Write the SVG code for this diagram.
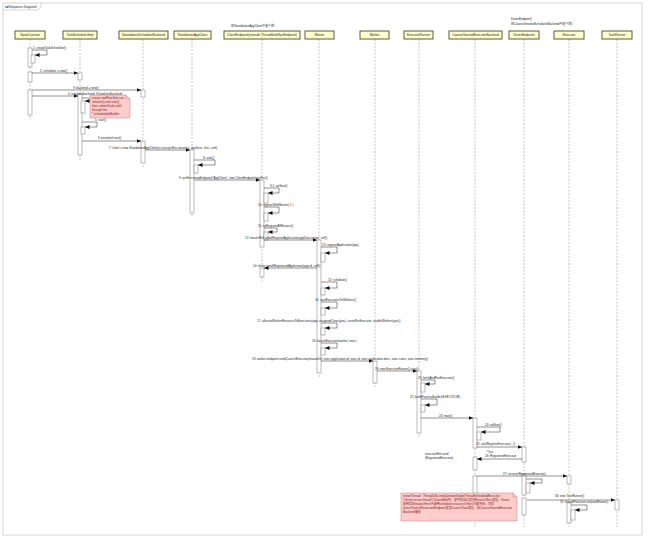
<svg xmlns="http://www.w3.org/2000/svg" width="650" height="543" viewBox="0 0 650 543">
<style>
text{font-family:"Liberation Sans","Noto Sans CJK SC",sans-serif;fill:#222}
.lbl{font-size:3px}
.hd{font-size:3.2px;text-anchor:middle}
.head{fill:#ffffcc;stroke:#4a4a2a;stroke-width:0.9}
.life{stroke:#8a8a8a;stroke-width:0.5;stroke-dasharray:2,1.5;fill:none}
.act{fill:#fff;stroke:#777;stroke-width:0.5}
.msg{stroke:#222;stroke-width:0.5;fill:none;marker-end:url(#ah)}
.note{fill:#ffcccc;stroke:#c08080;stroke-width:0.5}
.nt{font-size:3px;fill:#7a1a1a}
</style>
<defs>
<marker id="ah" markerUnits="userSpaceOnUse" markerWidth="5" markerHeight="4" refX="4.5" refY="2" orient="auto"><path d="M0,0 L4.5,2 L0,4 Z" fill="#111"/></marker>
</defs>
<rect width="650" height="543" fill="#fff"/>
<rect x="3" y="3" width="639" height="532" fill="none" stroke="#ccc" stroke-width="0.8"/>
<path d="M3,10 H38 L41,7 V3" fill="none" stroke="#aaa" stroke-width="0.5"/>
<text x="5" y="8" class="lbl"><tspan font-weight="bold">sd</tspan> Sequence Diagram0</text>

<text x="231" y="27" class="lbl">在StandaloneAppClient中定义的</text>
<text x="511" y="20" class="lbl">DriverEndpoint(</text>
<text x="511" y="25" class="lbl">在CoarseGrainedSchedulerBackend中定义的)</text>

<g id="n-sparkcontext"><line class="life" x1="30" y1="39" x2="30" y2="120"/><rect class="head" x="15" y="31" width="30" height="8"/><text class="hd" x="30" y="36.2">SparkContext</text>
<rect class="act" x="28" y="48" width="4" height="19"/><rect class="act" x="31" y="55" width="4" height="8"/><rect class="act" x="28" y="72" width="4" height="10"/><rect class="act" x="28" y="90" width="4" height="25"/></g>
<g id="n-taskschedulerimpl"><line class="life" x1="80" y1="39" x2="80" y2="160"/><rect class="head" x="63" y="31" width="34" height="8"/><text class="hd" x="80" y="36.2">TaskSchedulerImpl</text>
<rect class="act" x="78" y="73" width="4" height="7"/><rect class="act" x="78" y="94" width="4" height="61"/><rect class="act" x="81" y="101" width="4" height="12"/><rect class="act" x="81" y="127" width="4" height="7"/></g>
<g id="n-standaloneschedulerbackend"><line class="life" x1="143" y1="39" x2="143" y2="168"/><rect class="head" x="119" y="31" width="49" height="8"/><text class="hd" x="143.5" y="36.2">StandaloneSchedulerBackend</text>
<rect class="act" x="141" y="90" width="4" height="7"/><rect class="act" x="141" y="141" width="4" height="22"/></g>
<g id="n-standaloneappclient"><line class="life" x1="192" y1="39" x2="192" y2="218"/><rect class="head" x="174" y="31" width="37" height="8"/><text class="hd" x="192.5" y="36.2">StandaloneAppClient</text>
<rect class="act" x="190" y="150" width="4" height="63"/><rect class="act" x="194" y="165" width="4" height="8"/></g>
<g id="n-clientendpoint"><line class="life" x1="262" y1="39" x2="262" y2="282"/><rect class="head" x="224" y="31" width="76" height="8"/><text class="hd" x="262" y="36.2">ClientEndpoint(extends ThreadSafeRpcEndpoint)</text>
<rect class="act" x="260" y="180" width="4" height="67"/><rect class="act" x="264" y="193" width="4" height="10"/><rect class="act" x="264" y="213" width="4" height="8"/><rect class="act" x="264" y="232" width="4" height="8"/><rect class="act" x="260" y="268" width="4" height="9"/></g>
<g id="n-master"><line class="life" x1="319" y1="39" x2="319" y2="378"/><rect class="head" x="305" y="31" width="29" height="8"/><text class="hd" x="319.5" y="36.2">Master</text>
<rect class="act" x="317" y="240" width="4" height="133"/><rect class="act" x="321" y="253" width="4" height="9"/><rect class="act" x="321" y="288" width="4" height="7"/><rect class="act" x="321" y="308" width="4" height="7"/><rect class="act" x="321" y="328" width="4" height="7"/><rect class="act" x="321" y="348" width="4" height="7"/></g>
<g id="n-worker"><line class="life" x1="375" y1="39" x2="375" y2="387"/><rect class="head" x="360" y="31" width="29" height="8"/><text class="hd" x="374.5" y="36.2">Worker</text>
<rect class="act" x="373" y="361" width="4" height="22"/></g>
<g id="n-executorrunner"><line class="life" x1="419" y1="39" x2="419" y2="437"/><rect class="head" x="404" y="31" width="29" height="8"/><text class="hd" x="418.5" y="36.2">ExecutorRunner</text>
<rect class="act" x="417" y="371" width="4" height="62"/><rect class="act" x="421" y="383" width="4" height="9"/><rect class="act" x="421" y="405" width="4" height="7"/></g>
<g id="n-coarsegrainedexecutorbackend"><line class="life" x1="475" y1="39" x2="475" y2="527"/><rect class="head" x="449" y="31" width="53" height="8"/><text class="hd" x="475.5" y="36.2">CoarseGrainedExecutorBackend</text>
<rect class="act" x="473" y="418" width="4" height="30"/><rect class="act" x="477" y="432" width="4" height="8"/><rect class="act" x="473" y="457" width="4" height="13"/><rect class="act" x="473" y="476" width="4" height="44"/></g>
<g id="n-driverendpoint"><line class="life" x1="524" y1="39" x2="524" y2="527"/><rect class="head" x="509" y="31" width="30" height="8"/><text class="hd" x="524" y="36.2">DriverEndpoint</text>
<rect class="act" x="522" y="447" width="4" height="15"/><rect class="act" x="522" y="474" width="4" height="21"/><rect class="act" x="526" y="483" width="4" height="10"/><rect class="act" x="522" y="498" width="4" height="17"/></g>
<g id="n-executor"><line class="life" x1="569" y1="39" x2="569" y2="527"/><rect class="head" x="554" y="31" width="30" height="8"/><text class="hd" x="569" y="36.2">Executor</text>
<rect class="act" x="567" y="476" width="4" height="8"/><rect class="act" x="567" y="503" width="4" height="20"/><rect class="act" x="571" y="510" width="4" height="10"/></g>
<g id="n-taskrunner"><line class="life" x1="617" y1="39" x2="617" y2="527"/><rect class="head" x="602" y="31" width="30" height="8"/><text class="hd" x="617" y="36.2">TaskRunner</text>
<rect class="act" x="615" y="500" width="4" height="10"/></g>

<g id="connectors">
<path class="msg" d="M32,50 H47 V55 H35"/><text class="lbl" x="33" y="48.5">1: createTaskScheduler()</text>
<path class="msg" d="M32,73 H78"/><text class="lbl" x="40" y="71.5">2: scheduler = new()</text>
<path class="msg" d="M32,90 H141"/><text class="lbl" x="73" y="88.5">3: backend = new()</text>
<path class="msg" d="M32,96 H78"/><text class="lbl" x="68" y="94.5">4: initialize(backend: SchedulerBackend)</text>
<path class="msg" d="M82,98 H95 V101 H85"/>
<path class="msg" d="M82,122 H97 V127 H85"/><text class="lbl" x="95" y="121">5: start()</text>
<path class="msg" d="M82,141 H141"/><text class="lbl" x="98" y="139">6: backend.start()</text>
<path class="msg" d="M145,150 H190"/><text class="lbl" x="109" y="148.5">7: client = new StandaloneAppClient(sc.env.rpcEnv, masters, appDesc, this, conf)</text>
<path class="msg" d="M194,160 H215 V165 H198"/><text class="lbl" x="203" y="158.5">8: start()</text>
<path class="msg" d="M194,180 H260"/><text class="lbl" x="179" y="178.5">9: rpcEnv.setupEndpoint("AppClient", new ClientEndpoint(rpcEnv))</text>
<path class="msg" d="M264,188 H279 V193 H268"/><text class="lbl" x="270" y="187">9.1: onStart()</text>
<path class="msg" d="M264,207 H279 V213 H268"/><text class="lbl" x="258" y="205.5">10: registerWithMaster( 1 )</text>
<path class="msg" d="M264,228 H277 V232 H268"/><text class="lbl" x="258" y="227">11: tryRegisterAllMasters()</text>
<path class="msg" d="M264,240 H317"/><text class="lbl" x="245" y="238.5">12: masterRef.send(RegisterApplication(appDescription, self))</text>
<path class="msg" d="M321,247 H337 V253 H325"/><text class="lbl" x="322" y="246">13: registerApplication(app)</text>
<path class="msg" d="M317,268 H264"/><text class="lbl" x="253" y="266.5">14: driver.send(RegisteredApplication(app.id, self))</text>
<path class="msg" d="M321,282 H337 V288 H325"/><text class="lbl" x="328" y="281">15: schedule()</text>
<path class="msg" d="M321,302 H337 V308 H325"/><text class="lbl" x="315" y="301">16: startExecutorsOnWorkers()</text>
<path class="msg" d="M321,323 H337 V328 H325"/><text class="lbl" x="257" y="321.5">17: allocateWorkerResourceToExecutors(app, assignedCores(pos), coresPerExecutor, usableWorkers(pos))</text>
<path class="msg" d="M321,343 H337 V348 H325"/><text class="lbl" x="312" y="341.5">18: launchExecutor(worker, exec)</text>
<path class="msg" d="M321,361 H373"/><text class="lbl" x="252" y="359.5">19: worker.endpoint.send(LaunchExecutor(masterUrl, exec.application.id, exec.id, exec.application.desc, exec.cores, exec.memory))</text>
<path class="msg" d="M377,371 H417"/><text class="lbl" x="375" y="369.5">20: new ExecutorRunner().start()</text>
<path class="msg" d="M421,380 H435 V384 H425"/><text class="lbl" x="418" y="378.5">21: fetchAndRunExecutor()</text>
<path class="msg" d="M421,399 H437 V405 H425"/><text class="lbl" x="410" y="397.5">22: buildProcessBuilder(EXECUTOR)</text>
<path class="msg" d="M421,418 H473"/><text class="lbl" x="439" y="416.5">23: main()</text>
<path class="msg" d="M477,427 H500 V432 H481"/><text class="lbl" x="485" y="426">24: onStart()</text>
<path class="msg" d="M477,447 H522"/><text class="lbl" x="476" y="444.5">25: ask(RegisterExecutor(...))</text>
<path class="msg" d="M522,459 H477"/><text class="lbl" x="487" y="453">True</text><text class="lbl" x="485" y="457.2">26: RegisteredExecutor</text>
<path class="msg" d="M477,476 H567"/><text class="lbl" x="503" y="474.5">27: receive(RegisteredExecutor)</text>
<path class="msg" d="M526,479 H542 V483 H530"/>
<path class="msg" d="M527,500 H615"/><text class="lbl" x="555" y="497">30: new TaskRunner()</text>
<path class="msg" d="M571,505 H587 V510 H575"/><text class="lbl" x="560" y="503">31: threadPool.execute(taskRunner)</text>
</g>

<text class="lbl" x="425" y="454.5">executorRef.send</text>
<text class="lbl" x="425" y="459">(RegisteredExecutor)</text>

<g id="note1">
<path class="note" d="M90,95 H126 L130,99 V118 H90 Z"/><path d="M126,95 V99 H130" fill="none" stroke="#c08080" stroke-width="0.5"/>
<text class="nt" x="92" y="99">create rootPool that can</text>
<text class="nt" x="92" y="103">initialize() and start()</text>
<text class="nt" x="92" y="107">then submitTasks with</text>
<text class="nt" x="92" y="111">through the</text>
<text class="nt" x="92" y="115">* schedulableBuilder</text>
</g>
<g id="note2">
<path class="note" d="M401,493 H513 L517,497 V521 H401 Z"/><path d="M513,493 V497 H517" fill="none" stroke="#c08080" stroke-width="0.5"/>
<text class="nt" x="403" y="497">reviveThread : ThreadUtils.newDaemonSingleThreadScheduledExecutor</text>
<text class="nt" x="403" y="501">("driver-revive-thread") Driver启动时，定时向自己发送ReviveOffers消息，Driver</text>
<text class="nt" x="403" y="505">收到后在makeOffers中调用scheduler.resourceOffers分配资源，然后</text>
<text class="nt" x="403" y="509">launchTasks向executorEndpoint发送LaunchTask消息，由CoarseGrainedExecutor</text>
<text class="nt" x="403" y="513">Backend接收</text>
</g>
</svg>
